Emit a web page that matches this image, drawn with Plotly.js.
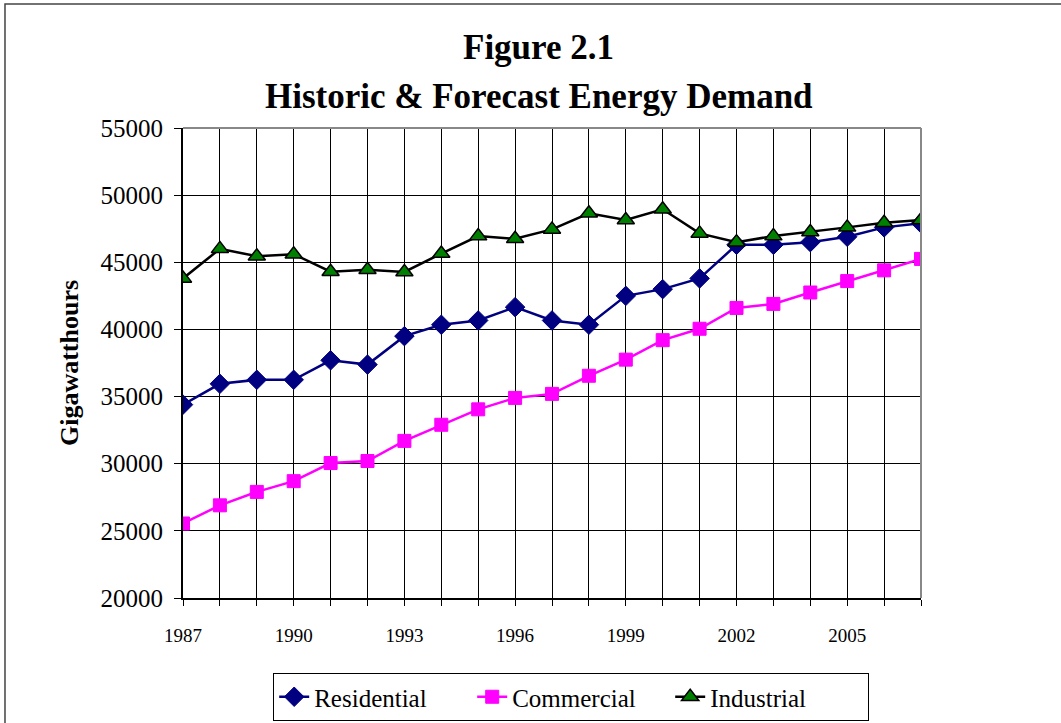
<!DOCTYPE html>
<html>
<head>
<meta charset="utf-8">
<script src="https://cdn.plot.ly/plotly-3.0.1.min.js"></script>
<style>html,body{margin:0;padding:0;background:#fff;}#chart{width:1061px;height:723px;}</style>
</head>
<body>
<div id="chart"></div>
<script>
const years = [1987,1988,1989,1990,1991,1992,1993,1994,1995,1996,1997,1998,1999,2000,2001,2002,2003,2004,2005,2006,2007];
const residential = [34400,35950,36250,36250,37700,37380,39500,40350,40670,41660,40670,40350,42500,43000,43800,46300,46300,46500,46900,47600,47900];
const commercial = [25550,26900,27900,28700,30050,30200,31700,32900,34050,34900,35200,36550,37750,39200,40050,41600,41900,42750,43600,44400,45250];
const industrial = [43800,46000,45450,45600,44300,44450,44280,45650,46950,46750,47450,48650,48150,48950,47150,46500,46950,47250,47600,47950,48150];
const xTickLabels = years.map((y, i) => (i % 3 === 0 ? String(y) : ''));
const yTicks = [20000,25000,30000,35000,40000,45000,50000,55000];
const yTickLabels = yTicks.map(v => String(v));
const titleLines = ['Figure 2.1', 'Historic &amp; Forecast Energy Demand'];

const serif = "'Liberation Serif', 'Times New Roman', Times, serif";

const traces = [
  {x: years, y: residential, name: 'Residential', mode: 'lines+markers',
   line: {color: '#000080', width: 2.5},
   marker: {symbol: 'diamond', size: 15, color: '#000080', line: {color: '#000080', width: 1}}},
  {x: years, y: commercial, name: 'Commercial', mode: 'lines+markers',
   line: {color: '#FF00FF', width: 2.5},
   marker: {symbol: 'square', size: 13, color: '#FF00FF', line: {color: '#FF00FF', width: 1}}},
  {x: years, y: industrial, name: 'Industrial', mode: 'lines+markers',
   line: {color: '#000000', width: 2.5},
   marker: {symbol: 'triangle-up', size: 15, color: '#008000', line: {color: '#000000', width: 1.5}}}
];

const layout = {
  width: 1061, height: 723,
  margin: {l: 183, r: 140, t: 128, b: 125, autoexpand: false},
  paper_bgcolor: '#ffffff', plot_bgcolor: '#ffffff',
  font: {family: serif, color: '#000'},
  showlegend: true,
  annotations: [
    {text: '<b>' + titleLines[0] + '</b>', xref: 'paper', yref: 'paper', x: 0.482, y: 1.172,
     xanchor: 'center', yanchor: 'middle', showarrow: false,
     font: {family: serif, size: 35, color: '#000'}},
    {text: '<b>' + titleLines[1] + '</b>', xref: 'paper', yref: 'paper', x: 0.482, y: 1.067,
     xanchor: 'center', yanchor: 'middle', showarrow: false,
     font: {family: serif, size: 35, color: '#000'}}
  ],
  xaxis: {
    range: [1987, 2007], tickmode: 'array', tickvals: years, ticktext: xTickLabels,
    showgrid: true, gridcolor: '#000', gridwidth: 1,
    showline: true, linecolor: '#000', linewidth: 2,
    ticks: 'outside', ticklen: 6, tickcolor: '#000', tickwidth: 1,
    ticklabelstandoff: 13,
    tickfont: {family: serif, size: 19, color: '#000'},
    zeroline: false, fixedrange: true
  },
  yaxis: {
    range: [20000, 55000], tickmode: 'array', tickvals: yTicks, ticktext: yTickLabels,
    showgrid: true, gridcolor: '#000', gridwidth: 1,
    showline: true, linecolor: '#000', linewidth: 2,
    ticks: 'outside', ticklen: 7, tickcolor: '#000', tickwidth: 1,
    ticklabelstandoff: 6,
    tickfont: {family: serif, size: 25, color: '#000'},
    title: {text: '<b>Gigawatthours</b>', font: {family: serif, size: 26, color: '#000'}, standoff: 14},
    zeroline: false, fixedrange: true
  },
  legend: {
    orientation: 'h', x: 0.526, xanchor: 'center', y: -0.1596, yanchor: 'top',
    bordercolor: '#000', borderwidth: 1, bgcolor: '#fff',
    font: {family: serif, size: 25, color: '#000'},
    entrywidth: 153, entrywidthmode: 'pixels',
    itemclick: false, itemdoubleclick: false
  },
  shapes: [
    {type: 'line', xref: 'paper', yref: 'paper', x0: 0, x1: 1, y0: 1, y1: 1, line: {color: '#888', width: 2}},
    {type: 'line', xref: 'paper', yref: 'paper', x0: 1, x1: 1, y0: 0, y1: 1, line: {color: '#888', width: 2}},
    {type: 'rect', xref: 'paper', yref: 'paper', x0: -0.2412, x1: 1.3, y0: -0.35, y1: 1.2638, line: {color: '#444', width: 1.5}, fillcolor: 'rgba(0,0,0,0)'}
  ]
};

Plotly.newPlot('chart', traces, layout, {displayModeBar: false, staticPlot: true});
</script>
</body>
</html>
